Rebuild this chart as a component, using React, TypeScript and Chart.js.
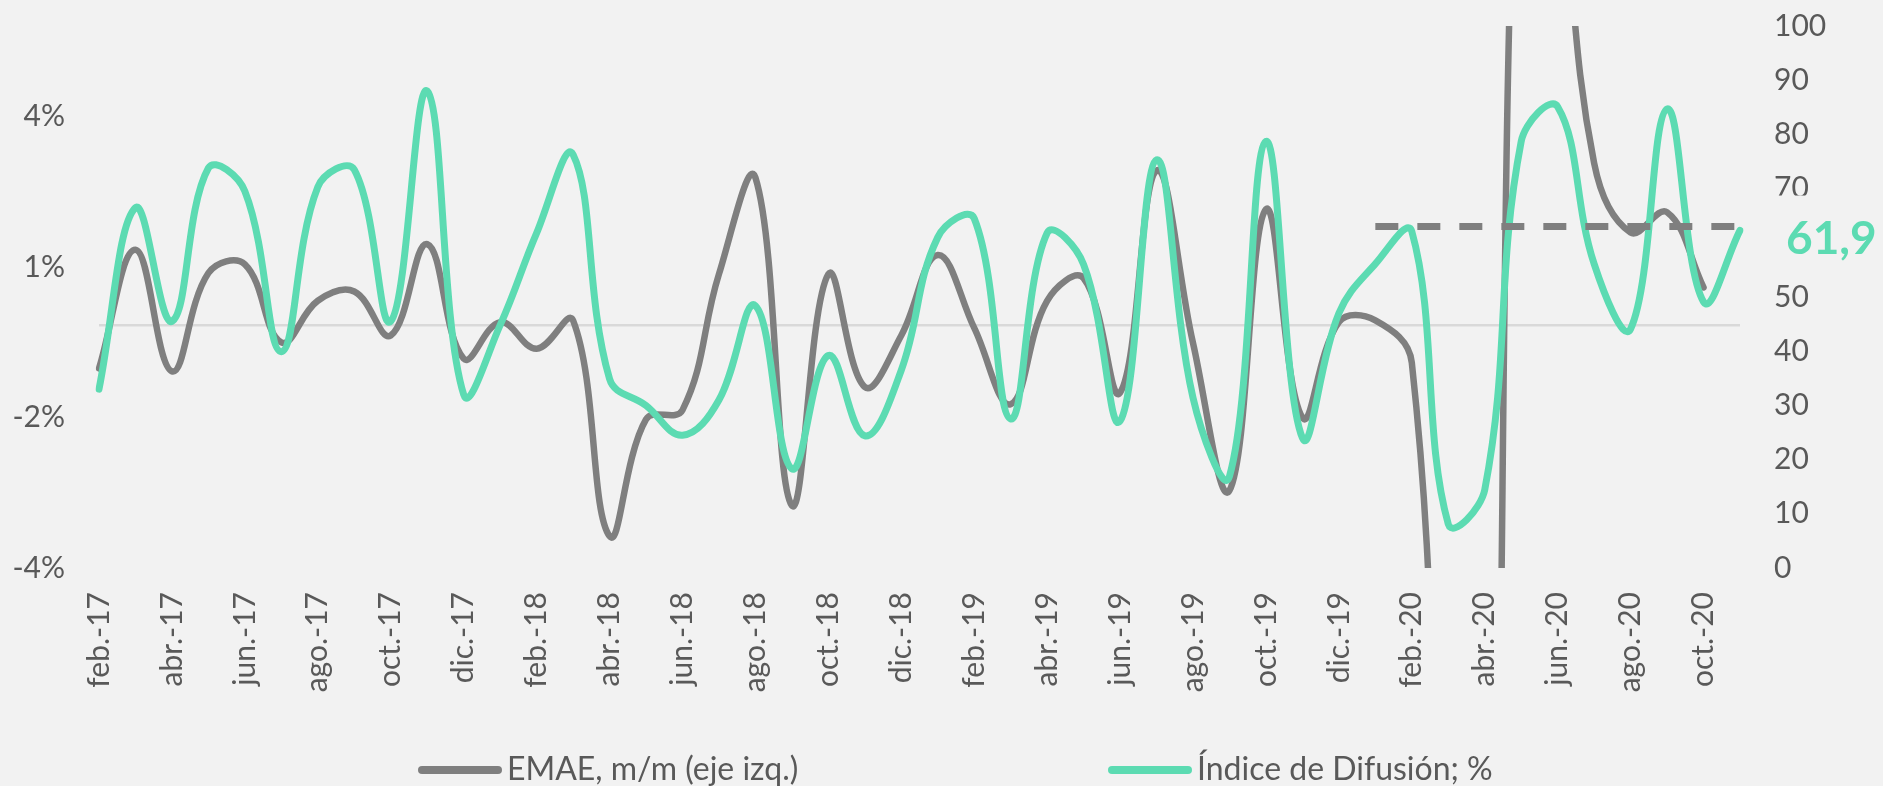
import React, { useEffect, useRef } from 'react';
import { Chart, registerables } from 'chart.js';

Chart.register(...registerables);

// ---------- DATA ----------
const months: string[] = [
  'feb.-17', 'mar.-17', 'abr.-17', 'may.-17', 'jun.-17', 'jul.-17', 'ago.-17', 'sep.-17', 'oct.-17', 'nov.-17', 'dic.-17',
  'ene.-18', 'feb.-18', 'mar.-18', 'abr.-18', 'may.-18', 'jun.-18', 'jul.-18', 'ago.-18', 'sep.-18', 'oct.-18', 'nov.-18', 'dic.-18',
  'ene.-19', 'feb.-19', 'mar.-19', 'abr.-19', 'may.-19', 'jun.-19', 'jul.-19', 'ago.-19', 'sep.-19', 'oct.-19', 'nov.-19', 'dic.-19',
  'ene.-20', 'feb.-20', 'mar.-20', 'abr.-20', 'may.-20', 'jun.-20', 'jul.-20', 'ago.-20', 'sep.-20', 'oct.-20', 'nov.-20',
];

// EMAE, m/m (%), left axis
const emae: (number | null)[] = [
  -0.75, 1.3, -0.8, 0.9, 1.05, -0.3, 0.42, 0.58, -0.18, 1.4, -0.58,
  0.05, -0.41, 0.08, -3.65, -1.63, -1.47, 0.88, 2.55, -3.12, 0.88, -1.07, -0.18,
  1.21, -0.05, -1.37, 0.42, 0.81, -1.17, 2.67, -0.31, -2.86, 2.0, -1.6, 0.05,
  0.08, -0.65, -11.5, -15.8, 11.0, 8.0, 2.8, 1.6, 1.95, 0.65, null,
];

// Índice de Difusión (%), right axis
const difusion: number[] = [
  33.0, 66.5, 45.5, 73.8, 69.5, 39.9, 70.3, 73.5, 45.5, 88.0, 32.0,
  44.8, 61.8, 76.3, 34.9, 30.0, 24.5, 31.0, 48.4, 18.3, 39.2, 24.4, 36.5,
  61.0, 64.5, 27.5, 61.8, 56.0, 27.1, 75.3, 31.4, 16.9, 78.7, 24.0, 47.0,
  56.1, 62.1, 8.1, 14.4, 78.7, 85.1, 56.1, 44.1, 84.7, 49.1, 62.3,
];

// Dashed reference level (right axis), from ene.-20 on
const referencia: (number | null)[] = [
  null, null, null, null, null, null, null, null, null, null, null,
  null, null, null, null, null, null, null, null, null, null, null, null,
  null, null, null, null, null, null, null, null, null, null, null, null,
  63, 63, 63, 63, 63, 63, 63, 63, 63, 63, 63,
];
const referenciaLabel = '61,9';

const leftTickValues: number[] = [-4.2, -1.6, 0, 1.0, 3.6];
const leftTickLabels: string[] = ['-4%', '-2%', '', '1%', '4%'];
const leftMin = -4.2;
const leftMax = 5.17;

const legendLabels: string[] = ['EMAE, m/m (eje izq.)', 'Índice de Difusión; %'];

// ---------- STYLE ----------
const BG = '#F2F2F2';
const GRAY = '#7F7F7F';
const TEAL = '#5CDBB2';
const TEXT = '#595959';
const FONT = 'Lato';

export default function App() {
  const canvasRef = useRef<HTMLCanvasElement | null>(null);

  useEffect(() => {
    document.body.style.margin = '0';
    document.body.style.background = BG;
    const canvas = canvasRef.current;
    if (!canvas) return;

    const overlayPlugin = {
      id: 'overlay',
      afterDraw(chart: any) {
        const { ctx, chartArea, scales } = chart;
        const y1 = scales.y1;
        // label box + value for reference line
        const yRef = y1.getPixelForValue(referencia[referencia.length - 1] as number);
        ctx.save();
        ctx.fillStyle = BG;
        ctx.fillRect(chartArea.right + 16, yRef - 31, chart.width - chartArea.right - 16, 89);
        ctx.fillStyle = TEAL;
        ctx.font = `bold 46px ${FONT}`;
        ctx.textAlign = 'left';
        ctx.textBaseline = 'middle';
        ctx.fillText(referenciaLabel, chartArea.right + 46, yRef + 13);

        // legend
        const cy = 770;
        const items = [
          { x: 418, color: GRAY, text: legendLabels[0] },
          { x: 1108, color: TEAL, text: legendLabels[1] },
        ];
        ctx.font = `32px ${FONT}`;
        ctx.textBaseline = 'middle';
        for (const it of items) {
          ctx.strokeStyle = it.color;
          ctx.lineWidth = 8;
          ctx.lineCap = 'round';
          ctx.beginPath();
          ctx.moveTo(it.x + 4, cy);
          ctx.lineTo(it.x + 80, cy);
          ctx.stroke();
          ctx.fillStyle = TEXT;
          ctx.fillText(it.text, it.x + 89, cy);
        }
        ctx.restore();
      },
    };

    const noVerticalPadding = (s: any, width: number) => {
      s.width = width;
      s.paddingTop = 0;
      s.paddingBottom = 0;
    };

    const chart = new Chart(canvas, {
      type: 'line',
      data: {
        labels: months,
        datasets: [
          {
            label: 'Referencia',
            data: referencia,
            yAxisID: 'y1',
            borderColor: GRAY,
            borderWidth: 7,
            borderDash: [23, 19],
            borderCapStyle: 'butt',
            tension: 0,
            pointRadius: 0,
            order: 0,
          },
          {
            label: legendLabels[1],
            data: difusion,
            yAxisID: 'y1',
            borderColor: TEAL,
            borderWidth: 7,
            tension: 0.4,
            pointRadius: 0,
            order: 1,
          },
          {
            label: legendLabels[0],
            data: emae,
            yAxisID: 'y',
            borderColor: GRAY,
            borderWidth: 6.5,
            tension: 0.4,
            pointRadius: 0,
            order: 2,
          },
        ],
      },
      options: {
        responsive: false,
        animation: false,
        devicePixelRatio: 1,
        layout: { padding: { top: 26, left: 0, right: 0, bottom: 70 } },
        elements: {
          line: { capBezierPoints: false, borderCapStyle: 'round', borderJoinStyle: 'round' },
        },
        plugins: { legend: { display: false }, tooltip: { enabled: false } },
        scales: {
          x: {
            type: 'category',
            offset: false,
            grid: { display: false, drawTicks: false },
            border: { display: false },
            ticks: {
              autoSkip: false,
              maxRotation: 90,
              minRotation: 90,
              padding: 24,
              color: TEXT,
              font: { family: FONT, size: 30 },
              callback: (_v: any, i: number) => (i % 2 === 0 ? months[i] : ''),
            },
            afterFit: (s: any) => {
              s.height = 148;
              s.paddingLeft = 0;
              s.paddingRight = 0;
            },
          },
          y: {
            position: 'left',
            min: leftMin,
            max: leftMax,
            afterBuildTicks: (s: any) => {
              s.ticks = leftTickValues.map((value) => ({ value }));
            },
            ticks: {
              padding: 34,
              color: TEXT,
              font: { family: FONT, size: 30 },
              callback: (_v: any, i: number) => leftTickLabels[i],
            },
            grid: {
              drawTicks: false,
              lineWidth: 2.5,
              color: (c: any) => (c.tick && c.tick.value === 0 ? '#D9D9D9' : 'rgba(0,0,0,0)'),
            },
            border: { display: false },
            afterFit: (s: any) => noVerticalPadding(s, 99),
          },
          y1: {
            position: 'right',
            min: 0,
            max: 100,
            ticks: {
              stepSize: 10,
              padding: 34,
              color: TEXT,
              font: { family: FONT, size: 30 },
            },
            grid: { display: false, drawTicks: false },
            border: { display: false },
            afterFit: (s: any) => noVerticalPadding(s, 143),
          },
        },
      },
      plugins: [overlayPlugin],
    } as any);

    return () => chart.destroy();
  }, []);

  return (
    <div style={{ width: 1883, height: 786, background: BG }}>
      <canvas ref={canvasRef} width={1883} height={786} />
    </div>
  );
}
